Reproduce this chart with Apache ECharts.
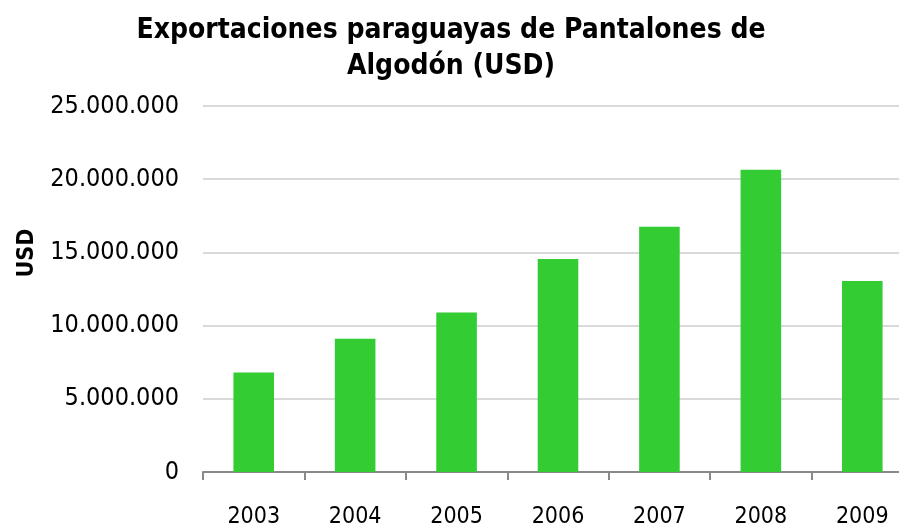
<!DOCTYPE html>
<html>
<head>
<meta charset="utf-8">
<script src="https://cdn.jsdelivr.net/npm/echarts@6/dist/echarts.min.js"></script>
<style>
  html, body { margin: 0; padding: 0; background: #fff; }
  #chart { width: 899px; height: 527px; }
</style>
</head>
<body>
<div id="chart"></div>
<script>
// años y valores de exportación (USD)
var years = ['2003', '2004', '2005', '2006', '2007', '2008', '2009']
var exportaciones = [6800000, 9100000, 10900000, 14550000, 16750000, 20650000, 13050000]
var titulo = 'Exportaciones paraguayas de Pantalones de\nAlgodón (USD)'
var nombreEje = 'USD'

var fuente = '"DejaVu Sans Condensed", "Liberation Sans Narrow", "Liberation Sans", sans-serif'

function formatoMiles(v) {
  return String(v).replace(/\B(?=(\d{3})+(?!\d))/g, '.')
}

var myChart = echarts.init(document.getElementById('chart'))
var option = {
  animation: false,
  title: {
    text: titulo,
    left: 446,
    textAlign: 'center',
    top: 8,
    textStyle: {
      color: '#000',
      fontFamily: fuente,
      fontWeight: 'bold',
      fontSize: 28,
      lineHeight: 36
    }
  },
  // etiqueta del eje y (un poco arriba del centro, como en el original)
  graphic: [
    {
      type: 'text',
      x: 27,
      y: 253,
      rotation: Math.PI / 2,
      style: {
        text: nombreEje,
        fill: '#000',
        font: 'bold 23px ' + fuente,
        align: 'center',
        verticalAlign: 'middle'
      }
    }
  ],
  // el área del gráfico sigue más allá del borde derecho
  grid: {
    left: 203,
    width: 710,
    top: 106,
    bottom: 55,
    outerBoundsMode: 'none'
  },
  xAxis: {
    type: 'category',
    data: years,
    axisLine: { lineStyle: { color: '#898989', width: 2 } },
    axisTick: { show: true, length: 8, lineStyle: { color: '#898989', width: 2 } },
    axisLabel: {
      color: '#000',
      fontFamily: fuente,
      fontSize: 23,
      margin: 34
    }
  },
  yAxis: {
    type: 'value',
    min: 0,
    max: 25000000,
    interval: 5000000,
    axisLine: { show: false },
    axisTick: { show: false },
    axisLabel: {
      color: '#000',
      fontFamily: fuente,
      fontSize: 25,
      margin: 24,
      formatter: formatoMiles
    },
    splitLine: { lineStyle: { color: '#d9d9d9', width: 2 } }
  },
  series: [
    {
      name: 'USD',
      type: 'bar',
      data: exportaciones,
      barWidth: '40%',
      itemStyle: { color: '#33cc33' }
    }
  ]
}
myChart.setOption(option)
</script>
</body>
</html>
